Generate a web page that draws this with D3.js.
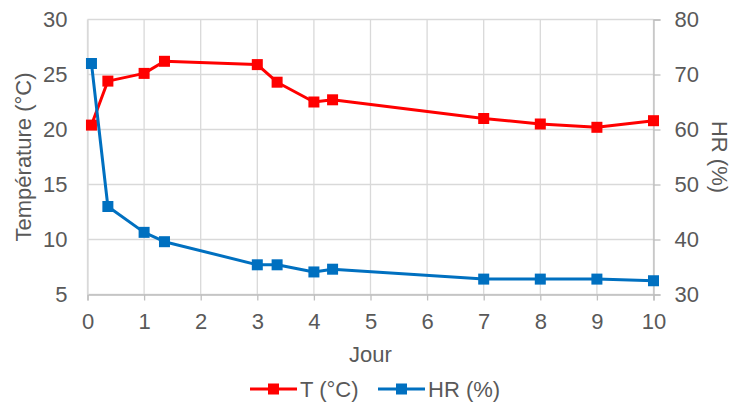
<!DOCTYPE html>
<html><head><meta charset="utf-8">
<script src="https://cdn.jsdelivr.net/npm/d3@7/dist/d3.min.js"></script>
<style>
html,body{margin:0;padding:0;background:#fff;}
svg text{font-family:"Liberation Sans",Arial,sans-serif;fill:#595959;}
</style></head>
<body>
<svg id="chart" width="732" height="403"></svg>
<script>
const days = [0.07, 0.36, 1, 1.36, 3, 3.35, 4, 4.33, 7, 8, 9, 10];
const temperature = [20.4, 24.4, 25.1, 26.2, 25.9, 24.3, 22.5, 22.7, 21.0, 20.5, 20.2, 20.8];
const humidity = [72.0, 46.0, 41.3, 39.6, 35.4, 35.4, 34.1, 34.6, 32.8, 32.8, 32.8, 32.5];
const xTicks = [0,1,2,3,4,5,6,7,8,9,10];
const leftTicks = [5,10,15,20,25,30];
const rightTicks = [30,40,50,60,70,80];
const seriesNames = ["T (°C)", "HR (%)"];
const seriesColors = ["#FF0000", "#0070C0"];

const svg = d3.select("#chart");
const m = {left: 87.5, right: 653.5, top: 19.5, bottom: 294.5};
const x = d3.scaleLinear().domain([0,10]).range([m.left, m.right]);
const yL = d3.scaleLinear().domain([5,30]).range([m.bottom, m.top]);
const yR = d3.scaleLinear().domain([30,80]).range([m.bottom, m.top]);
const fs = 22;

// gridlines
const grid = svg.append("g");
grid.selectAll(".hg").data(leftTicks).join("line")
  .attr("x1", m.left).attr("x2", m.right)
  .attr("y1", d=>yL(d)).attr("y2", d=>yL(d))
  .attr("stroke", "#D9D9D9").attr("stroke-width", 1.3);
grid.selectAll(".vg").data(xTicks).join("line")
  .attr("x1", d=>x(d)).attr("x2", d=>x(d))
  .attr("y1", m.top).attr("y2", m.bottom)
  .attr("stroke", "#D9D9D9").attr("stroke-width", 1.3);

// axes
const xAxis = svg.append("g").attr("transform", `translate(0,${m.bottom})`)
  .call(d3.axisBottom(x).tickValues(xTicks).tickSize(6).tickPadding(13).tickFormat(d3.format("d")));
xAxis.select(".domain").attr("stroke", "#BFBFBF").attr("stroke-width", 1.3);
xAxis.selectAll(".tick line").attr("stroke", "#BFBFBF").attr("stroke-width", 1.3);
xAxis.selectAll("text").style("font-size", fs+"px").attr("fill", "#595959");

const lAxis = svg.append("g").attr("transform", `translate(${m.left},0)`)
  .call(d3.axisLeft(yL).tickValues(leftTicks).tickSize(0).tickPadding(20).tickFormat(d3.format("d")));
lAxis.select(".domain").attr("stroke", "#D9D9D9").attr("stroke-width", 1.3);
lAxis.selectAll("text").style("font-size", fs+"px").attr("fill", "#595959");

const rAxis = svg.append("g").attr("transform", `translate(${m.right},0)`)
  .call(d3.axisRight(yR).tickValues(rightTicks).tickSize(7).tickPadding(14).tickFormat(d3.format("d")));
rAxis.select(".domain").attr("stroke", "#BFBFBF").attr("stroke-width", 1.3);
rAxis.selectAll(".tick line").attr("stroke", "#BFBFBF").attr("stroke-width", 1.3);
rAxis.selectAll("text").style("font-size", fs+"px").attr("fill", "#595959");

// titles
svg.append("text").attr("x", (m.left+m.right)/2).attr("y", 362)
  .attr("text-anchor", "middle").style("font-size", fs+"px").text("Jour");
svg.append("text").attr("transform", `translate(31,${(m.top+m.bottom)/2}) rotate(-90)`)
  .attr("text-anchor", "middle").style("font-size", fs+"px").text("Température (°C)");
svg.append("text").attr("transform", `translate(712,${(m.top+m.bottom)/2}) rotate(90)`)
  .attr("text-anchor", "middle").style("font-size", fs+"px").text("HR (%)");

// series
const series = [
  {vals: temperature, y: yL, color: seriesColors[0]},
  {vals: humidity, y: yR, color: seriesColors[1]}
];
const ms = 11;
series.forEach(s => {
  const pts = days.map((d,i)=>[x(d), s.y(s.vals[i])]);
  svg.append("path").attr("d", d3.line()(pts)).attr("fill","none")
    .attr("stroke", s.color).attr("stroke-width", 3).attr("stroke-linejoin","round");
  svg.append("g").selectAll("rect").data(pts).join("rect")
    .attr("x", d=>d[0]-ms/2).attr("y", d=>d[1]-ms/2)
    .attr("width", ms).attr("height", ms).attr("fill", s.color);
});

// legend
const legendY = 389;
const legendItems = [{x: 250, tx: 300}, {x: 378, tx: 428}];
seriesNames.forEach((n,i) => {
  const g = svg.append("g");
  const lx = legendItems[i].x;
  g.append("line").attr("x1", lx).attr("x2", lx+47).attr("y1", legendY).attr("y2", legendY)
    .attr("stroke", seriesColors[i]).attr("stroke-width", 3);
  g.append("rect").attr("x", lx+23.5-ms/2).attr("y", legendY-ms/2).attr("width", ms).attr("height", ms)
    .attr("fill", seriesColors[i]);
  g.append("text").attr("x", legendItems[i].tx).attr("y", legendY+8).style("font-size", fs+"px").text(n);
});
</script>
</body></html>
